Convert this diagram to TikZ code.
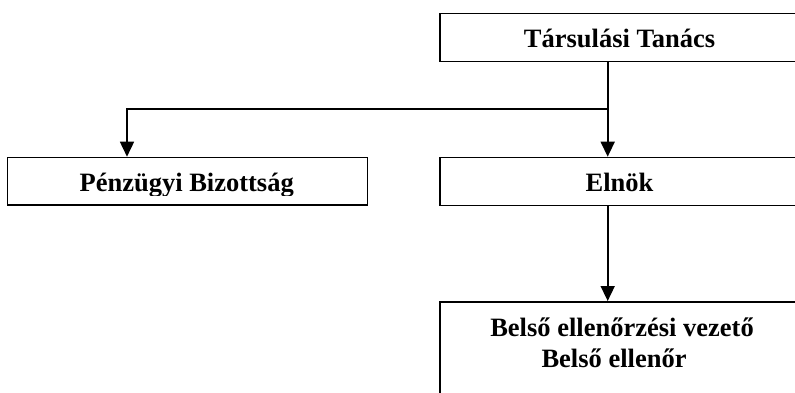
\documentclass[tikz,border=0pt]{standalone}
\usepackage{fontspec}
\setmainfont{Liberation Serif}
\usetikzlibrary{arrows.meta}
\begin{document}
\begin{tikzpicture}[x=1pt,y=-1pt,
  box/.style={draw, line width=1.6pt, inner sep=0pt, anchor=north west},
  lbl/.style={font=\fontsize{26.5}{30}\selectfont\bfseries, inner sep=0pt, anchor=base},
  link/.style={line width=1.6pt},
  conn/.style={line width=1.6pt, -{Triangle[width=14pt,length=15pt]}}]
\clip (0,0) rectangle (795,392);
\useasboundingbox (0,0) rectangle (795,392);
\fill[white] (0,0) rectangle (795,392);
% boxes
\node[box, minimum width=361pt, minimum height=48pt] (tt) at (439,12.7) {};
\node[box, minimum width=360pt, minimum height=47.6pt] (pb) at (6.7,156.7) {};
\node[box, minimum width=361pt, minimum height=48pt] (el) at (439,156.7) {};
\node[box, minimum width=361pt, minimum height=120pt] (bv) at (439,301) {};
% texts
\node[lbl] (ttt) at (619.5,47.8) {Társulási Tanács};
\begin{scope}
  \clip (6.7,156.7) rectangle (366.7,195);
  \node[lbl] (pbt) at (186.7,191.3) {Pénzügyi Bizottság};
\end{scope}
\node[lbl] (elt) at (619.5,191.5) {Elnök};
\node[lbl] (bvt1) at (622,336) {Belső ellenőrzési vezető};
\node[lbl] (bvt2) at (614,367) {Belső ellenőr};
% connectors
\coordinate (j) at (607.7,109);
\coordinate (jl) at (127,109);
\draw[link] (tt.south -| j) -- (j);
\draw[conn] (j) -- (el.north -| j);
\draw[conn] (j) -- (jl) -- (pb.north -| jl);
\draw[conn] (el.south -| j) -- (bv.north -| j);
\end{tikzpicture}
\end{document}
